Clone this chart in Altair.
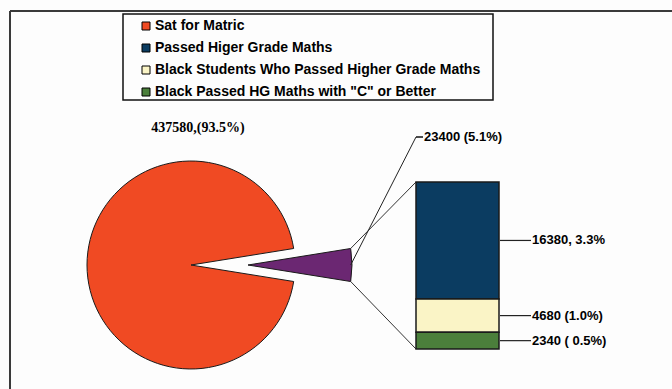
import math
import altair as alt
import pandas as pd

# Pie: matric candidates vs. those who passed HG maths
pie_parts = ["Sat for Matric", "Passed HG Maths (all)"]
pie_values = [437580, 23400]
pie_labels = ["437580,(93.5%)", "23400 (5.1%)"]

# Breakdown of the small slice, shown as a stacked bar
bar_parts = [
    "Passed Higer Grade Maths",
    "Black Students Who Passed Higher Grade Maths",
    'Black Passed HG Maths with "C" or Better',
]
bar_values = [16380, 4680, 2340]
bar_labels = ["16380, 3.3%", "4680 (1.0%)", "2340 ( 0.5%)"]

legend_names = ["Sat for Matric"] + bar_parts
legend_colors = ["#F04A23", "#0B3C61", "#FAF4C6", "#4B7F3B"]
slice_purple = "#6B2772"

pie_df = pd.DataFrame({"part": pie_parts, "value": pie_values, "label": pie_labels})
bar_df = pd.DataFrame({"part": bar_parts, "value": bar_values, "label": bar_labels})

W, H = 672, 389
OUT = "#1a1a1a"

# pie geometry
cx, cy, R = 191, 265, 104
explode = 57
pie_total = sum(pie_values)
half = math.pi * pie_values[1] / pie_total           # half-angle of the small slice
theta0 = math.pi / 2 + half                          # small slice centred at 3 o'clock
theta_scale = alt.Scale(
    domain=[0, pie_total], range=[theta0, theta0 + 2 * math.pi], nice=False
)

# bar geometry
bar_x0, bar_x1 = 416, 499
bar_top, bar_bot = 182, 349
y_scale = alt.Scale(range=[bar_bot, bar_top], zero=True, nice=False)

color_scale = alt.Scale(domain=legend_names, range=legend_colors)
legend = alt.Legend(
    title=None, orient="none", legendX=139, legendY=19, padding=0,
    symbolType="square", symbolSize=64, symbolStrokeColor="black",
    symbolStrokeWidth=1, symbolOffset=0, labelOffset=2,
    labelFont="Liberation Sans", labelFontWeight="bold", labelFontSize=14,
    labelColor="black", rowPadding=8, labelLimit=600,
)

pie_base = alt.Chart(pie_df).transform_stack(
    stack="value", groupby=[], as_=["t0", "t1"],
    sort=[alt.SortField("value", order="descending")],
)

big_slice = pie_base.transform_filter(alt.datum.part == pie_parts[0]).mark_arc(
    radius=R, stroke=OUT, strokeWidth=1
).encode(
    theta=alt.Theta("t0:Q", scale=theta_scale),
    theta2="t1:Q",
    color=alt.Color("part:N", scale=color_scale, legend=legend),
    x=alt.value(cx), y=alt.value(cy),
)

small_slice = pie_base.transform_filter(alt.datum.part == pie_parts[1]).mark_arc(
    radius=R, stroke=OUT, strokeWidth=1
).encode(
    theta=alt.Theta("t0:Q", scale=theta_scale),
    theta2="t1:Q",
    color=alt.value(slice_purple),
    x=alt.value(cx + explode), y=alt.value(cy),
)

big_label = pie_base.transform_filter(alt.datum.part == pie_parts[0]).mark_text(
    font="Liberation Serif", fontWeight="bold", fontSize=14, color="black",
    align="center", baseline="middle",
).encode(text="label:N", x=alt.value(198), y=alt.value(128))

small_label = pie_base.transform_filter(alt.datum.part == pie_parts[1]).mark_text(
    font="Liberation Sans", fontWeight="bold", fontSize=13, color="black",
    align="left", baseline="middle",
).encode(text="label:N", x=alt.value(424), y=alt.value(137))

# corners and middle of the small slice's outer edge
scx = cx + explode
edge_x = scx + R * math.cos(half)
edge_top = cy - R * math.sin(half)
edge_bot = cy + R * math.sin(half)

def seg(x1, y1, x2, y2, color=OUT, width=1):
    return alt.Chart(pd.DataFrame({"k": [0]})).mark_rule(
        color=color, strokeWidth=width
    ).encode(x=alt.value(x1), y=alt.value(y1), x2=alt.value(x2), y2=alt.value(y2))

connectors = (
    seg(edge_x, edge_top, bar_x0, bar_top, "#333")
    + seg(edge_x, edge_bot, bar_x0, bar_bot, "#333")
    + seg(edge_x, cy, bar_x0, 137, "#222")
    + seg(bar_x0, 137, 423, 137, "#111", 1.5)
)

bar_base = alt.Chart(bar_df).transform_stack(
    stack="value", groupby=[], as_=["b0", "b1"],
    sort=[alt.SortField("value", order="ascending")],
)

bars = bar_base.mark_bar(stroke=OUT, strokeWidth=1.5).encode(
    x=alt.value(bar_x0), x2=alt.value(bar_x1),
    y=alt.Y("b0:Q", scale=y_scale, axis=None), y2="b1:Q",
    color=alt.Color("part:N", scale=color_scale, legend=legend),
)

bar_mid = bar_base.transform_calculate(mid="(datum.b0 + datum.b1) / 2")

bar_leaders = bar_mid.mark_rule(color="#222", strokeWidth=1.2).encode(
    x=alt.value(bar_x1 + 1), x2=alt.value(531),
    y=alt.Y("mid:Q", scale=y_scale, axis=None),
)

bar_text = bar_mid.mark_text(
    font="Liberation Sans", fontWeight="bold", fontSize=13, color="black",
    align="left", baseline="middle",
).encode(
    x=alt.value(532), y=alt.Y("mid:Q", scale=y_scale, axis=None), text="label:N"
)

# outer frame (top and left edges) and the legend box
frame = seg(10, 11, W, 11, "#3a3a3a", 2) + seg(10, 11, 10, H, "#3a3a3a", 2)
legend_box = alt.Chart(pd.DataFrame({"k": [0]})).mark_rect(
    fill=None, stroke="#111", strokeWidth=1.5
).encode(x=alt.value(123), x2=alt.value(493), y=alt.value(14), y2=alt.value(100))

chart = alt.layer(
    frame, legend_box, big_slice, small_slice, connectors, bars,
    bar_leaders, bar_text, big_label, small_label,
).properties(
    width=W, height=H, padding=0, autosize="none", background="#fdfdfd"
).configure_view(stroke=None)

chart.save("out.html", embed_options={"renderer": "svg", "actions": False})
